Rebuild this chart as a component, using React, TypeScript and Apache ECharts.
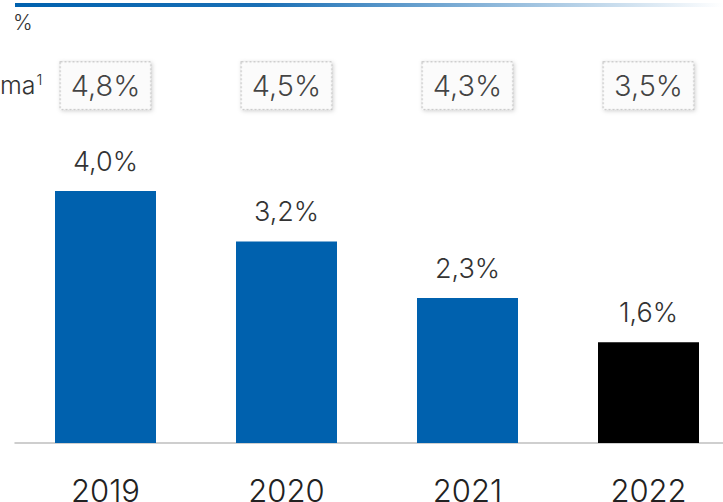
import React, { useEffect, useRef } from "react";
import * as echarts from "echarts";

const categories = ["2019", "2020", "2021", "2022"];
const barValues = [4.0, 3.2, 2.3, 1.6];
const boxValues = [4.8, 4.5, 4.3, 3.5];
const barColors = ["#0061AE", "#0061AE", "#0061AE", "#000000"];
const unitLabel = "%";
const rowLabel = "ma";

const fmt = (v: number) => v.toFixed(1).replace(".", ",") + "%";

export default function App() {
  const ref = useRef<HTMLDivElement>(null);
  useEffect(() => {
    if (!ref.current) return;
    const chart = echarts.init(ref.current, null, { renderer: "svg" });
    const FONT = "Inter, Lato, sans-serif";
    const W = 300;
    const boxLevel = 5.67;
    chart.setOption({
      animation: false,
      textStyle: { fontFamily: FONT, fontWeight: W },
      grid: { left: 15, width: 724, top: 2, height: 441, outerBoundsMode: "none" },
      xAxis: {
        type: "category",
        data: categories,
        axisLine: { lineStyle: { color: "#bfbfbf", width: 1.5 } },
        axisTick: { length: 10, lineStyle: { color: "#bfbfbf", width: 1.5 } },
        axisLabel: { fontSize: 31, color: "#222", margin: 32, fontFamily: FONT, fontWeight: W },
      },
      yAxis: {
        type: "value",
        min: 0,
        max: 7,
        show: false,
        splitLine: { show: false },
      },
      series: [
        {
          type: "bar",
          barWidth: 101,
          data: barValues.map((v, i) => ({ value: v, itemStyle: { color: barColors[i] } })),
          label: {
            show: true,
            position: "top",
            distance: 16,
            fontSize: 27,
            color: "#333",
            fontFamily: FONT,
            fontWeight: W,
            formatter: (p: any) => fmt(p.value),
          },
        },
        {
          type: "scatter",
          symbolSize: 0,
          data: boxValues.map(() => boxLevel),
          label: {
            show: true,
            position: "inside",
            formatter: (p: any) => fmt(boxValues[p.dataIndex]),
            fontSize: 29,
            color: "#111",
            fontFamily: FONT,
            fontWeight: W,
            backgroundColor: "#fff",
            borderColor: "#b5b5b5",
            borderWidth: 1,
            borderType: "dotted",
            shadowColor: "rgba(0,0,0,0.25)",
            shadowBlur: 4,
            shadowOffsetX: 1,
            shadowOffsetY: 1,
            width: 70,
            height: 31,
            lineHeight: 31,
            align: "center",
            padding: [8, 10],
          },
        },
      ],
      graphic: [
        {
          type: "rect",
          shape: { x: 15, y: 3, width: 708, height: 4 },
          style: {
            fill: new echarts.graphic.LinearGradient(0, 0, 1, 0, [
              { offset: 0, color: "#0061AE" },
              { offset: 0.35, color: "#1a6fb5" },
              { offset: 1, color: "#ffffff" },
            ]),
          },
        },
        {
          type: "text",
          x: 13,
          y: 12,
          style: { text: unitLabel, fontSize: 21, fill: "#333", fontFamily: FONT, fontWeight: W },
        },
        {
          type: "text",
          x: 0,
          y: 72,
          style: {
            text: rowLabel + "{s|1}",
            fontSize: 25,
            fill: "#333",
            fontFamily: FONT,
            fontWeight: W,
            rich: { s: { fontSize: 15, verticalAlign: "top", padding: [0, 0, 8, 1], fill: "#333", fontFamily: FONT, fontWeight: W } },
          },
        },
      ],
    });
    return () => chart.dispose();
  }, []);
  return <div ref={ref} style={{ width: 723, height: 502, position: "absolute", left: 0, top: 0 }} />;
}
